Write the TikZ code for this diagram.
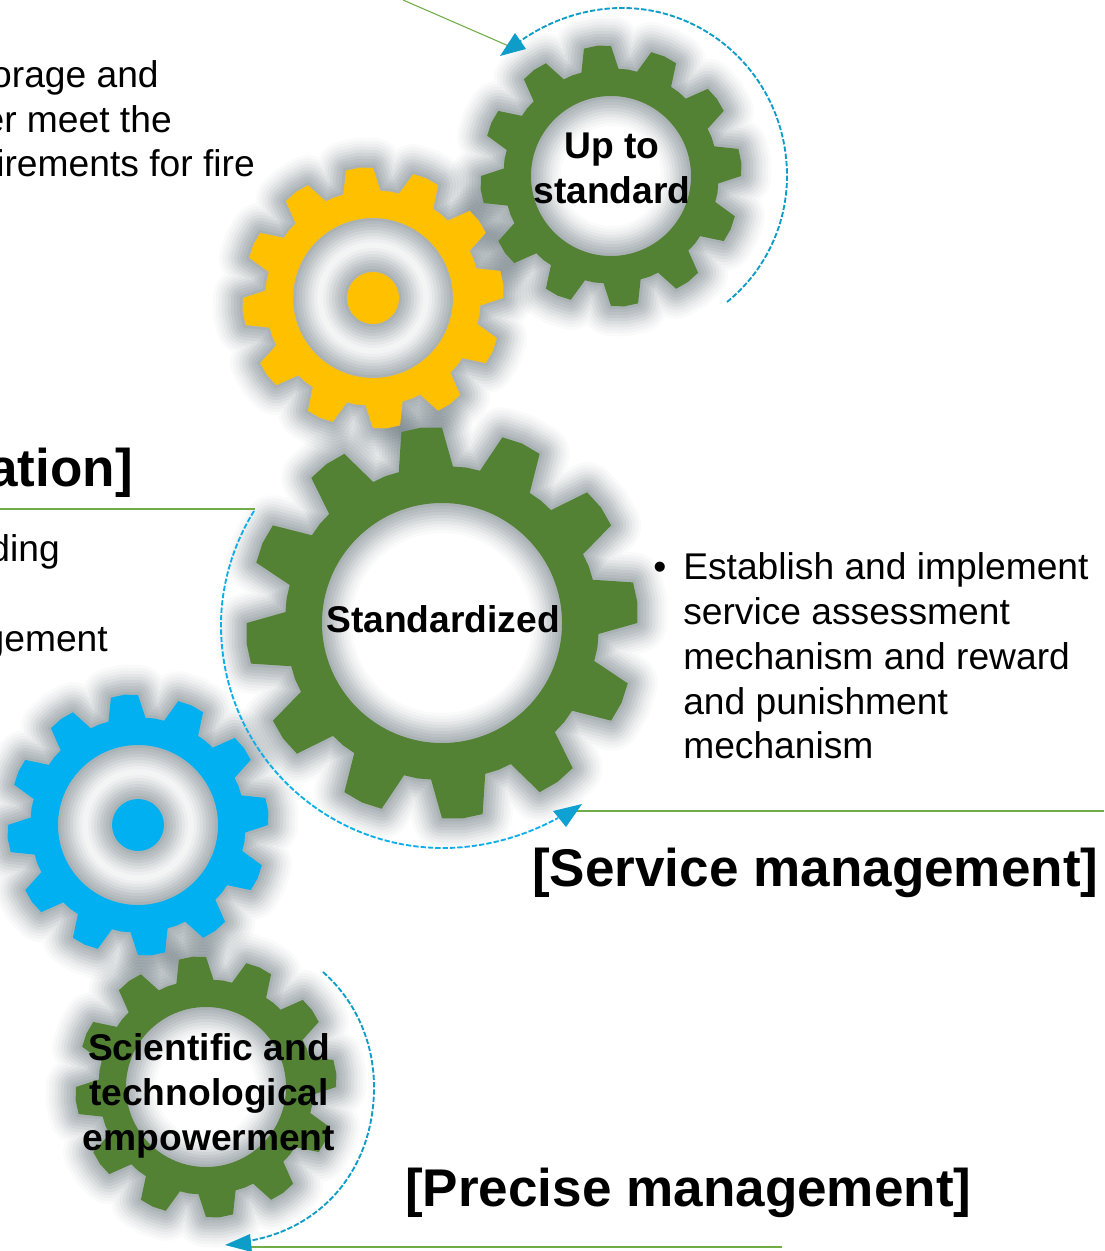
\documentclass[tikz,border=0pt]{standalone}
\usepackage{fontspec}
\setmainfont{Liberation Sans}
\definecolor{gearGreen}{HTML}{548235}
\definecolor{gearYellow}{HTML}{FFC000}
\definecolor{gearBlue}{HTML}{00B0F0}
\definecolor{ruleGreen}{HTML}{70AD47}
\definecolor{arcTeal}{HTML}{0E9CC8}
\definecolor{arcSky}{HTML}{0FAEE8}
\definecolor{haloGray}{HTML}{5C6B72}
\newcommand\bodyfont{\fontsize{27.9}{33.7}\selectfont}
\newcommand\headfont{\bfseries\fontsize{39.8}{48}\selectfont}
\newcommand\labelfont{\bfseries\fontsize{27.9}{33.7}\selectfont}
% #1 x, #2 y, #3 scale, #4 root radius, #5 holes
\newcommand\gearhalo[5]{%
  \begin{scope}[shift={(#1,#2)},scale=#3]
    \foreach \w/\op in {6/.10,12/.09,18/.09,24/.09,30/.08,36/.07,42/.06,48/.05,54/.04,60/.03}{
      \draw[draw=haloGray,opacity=\op,line width=\w*0.75pt,line join=round]
        (-106:#4) \foreach \i in {0,...,11}{
          -- ({\i*30-106}:#4) -- ({\i*30-102}:130.2) -- ({\i*30-96}:131)
          -- ({\i*30-90}:130.2) -- ({\i*30-86}:#4) -- ({\i*30-81}:#4+0.3)} -- cycle
        #5;
    }
  \end{scope}}
\newcommand\gearbody[6]{%
  \begin{scope}[shift={(#1,#2)},scale=#3]
    \fill[#6,even odd rule]
      (-106:#4) \foreach \i in {0,...,11}{
        -- ({\i*30-106}:#4) -- ({\i*30-102}:130.2) -- ({\i*30-96}:131)
        -- ({\i*30-90}:130.2) -- ({\i*30-86}:#4) -- ({\i*30-81}:#4+0.3)} -- cycle
      #5;
  \end{scope}}
\tikzset{
  rulegreen/.style={draw=ruleGreen,line width=0.8pt},
  arcteal/.style={draw=arcTeal,line width=1.4pt,dash pattern=on 4pt off 1.5pt},
  arcsky/.style={draw=arcSky,line width=1.4pt,dash pattern=on 4pt off 1.5pt},
  headteal/.style={fill=arcTeal},
  headsky/.style={fill=arcTeal!70!arcSky},
  bodytext/.style={font=\bodyfont,inner sep=0pt},
  headtext/.style={font=\headfont,inner sep=0pt},
  gearlabel/.style={font=\labelfont,align=center,inner sep=0pt,text=black},
}
\begin{document}
\begin{tikzpicture}[x=0.75pt,y=-0.75pt]
\useasboundingbox (0,0) rectangle (1104,1251);
% halos
\gearhalo{611}{176}{1}{107.5}{(0,0) circle (80)}
\gearhalo{373}{298}{1}{107.5}{(0,0) circle (80) (0,0) circle (26)}
\gearhalo{442}{623}{1.5}{104.6}{(0,0) circle (80)}
\gearhalo{138}{825}{1}{107.5}{(0,0) circle (80) (0,0) circle (26)}
\gearhalo{206}{1087}{1}{107.5}{(0,0) circle (80)}
% gears
\gearbody{611}{176}{1}{107.5}{(0,0) circle (80)}{gearGreen}
\gearbody{373}{298}{1}{107.5}{(0,0) circle (80) (0,0) circle (26)}{gearYellow}
\gearbody{442}{623}{1.5}{104.6}{(0,0) circle (80)}{gearGreen}
\gearbody{138}{825}{1}{107.5}{(0,0) circle (80) (0,0) circle (26)}{gearBlue}
\gearbody{206}{1087}{1}{107.5}{(0,0) circle (80)}{gearGreen}
% coordinates
\coordinate (ruleTopA) at (403,0);
\coordinate (ruleTopB) at (511,47);
\coordinate (ruleMidA) at (0,509);
\coordinate (ruleMidB) at (255,509);
\coordinate (ruleSvcA) at (576,811);
\coordinate (ruleSvcB) at (1104,811);
\coordinate (rulePreA) at (245,1247);
\coordinate (rulePreB) at (782,1247);
% green rules
\draw[rulegreen] (ruleTopA) -- (ruleTopB);
\draw[rulegreen] (ruleMidA) -- (ruleMidB);
\draw[rulegreen] (ruleSvcA) -- (ruleSvcB);
\draw[rulegreen] (rulePreA) -- (rulePreB);
% dashed arcs
\draw[arcteal] (727,302) .. controls (764,272) and (787,226) .. (787,176)
  .. controls (787,82) and (712,8) .. (622,8)
  .. controls (585,8) and (548,21) .. (519,42);
\draw[arcsky] (254,511) .. controls (233,545) and (221,585) .. (221,625)
  .. controls (221,748) and (320,848) .. (443,848)
  .. controls (483,848) and (523,837) .. (558,818);
\draw[arcteal] (323,972) .. controls (356,1001) and (374,1043) .. (374,1087)
  .. controls (374,1170) and (321,1229) .. (248,1241);
% arrow heads
\fill[headteal] (500,56) -- (515,33) -- (526,49) -- cycle;
\fill[headsky] (582,804) -- (553,811) -- (566,827) -- cycle;
\fill[headteal] (225,1245) -- (250,1234) -- (252,1252) -- cycle;
% texts
\node[bodytext,anchor=base east] (t1) at (159,88) {orage and};
\node[bodytext,anchor=base east] (t2) at (172,133) {er meet the};
\node[bodytext,anchor=base east] (t3) at (255,177) {irements for fire};
\node[headtext,anchor=base east] (t4) at (133,486) {ation]};
\node[bodytext,anchor=base east] (t5) at (60,561) {ding};
\node[bodytext,anchor=base east] (t6) at (108,651) {gement};
\node[bodytext,anchor=base] (bullet) at (660,579) {•};
\node[bodytext,anchor=base west] (e1) at (683,579) {Establish and implement};
\node[bodytext,anchor=base west] (e2) at (683,624) {service assessment};
\node[bodytext,anchor=base west] (e3) at (683,669) {mechanism and reward};
\node[bodytext,anchor=base west] (e4) at (683,714) {and punishment};
\node[bodytext,anchor=base west] (e5) at (683,758) {mechanism};
\node[headtext,anchor=base west] (svc) at (532,886) {[Service management]};
\node[headtext,anchor=base west] (pre) at (405,1206) {[Precise management]};
\node[gearlabel] (up) at (612,168) {Up to\\standard};
\node[gearlabel,anchor=base] (std) at (443,632) {Standardized};
\node[gearlabel] (sci) at (209,1096) {Scientific and\\technological\\empowerment};
\end{tikzpicture}
\end{document}
